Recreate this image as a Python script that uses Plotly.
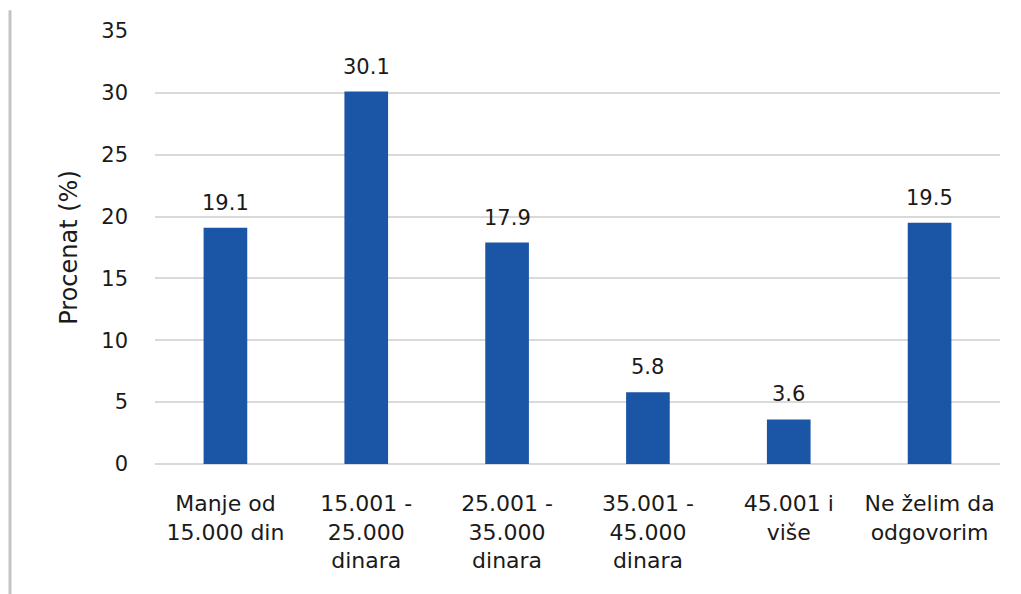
import plotly.graph_objects as go

categories = ["Manje od<br>15.000 din", "15.001 -<br>25.000<br>dinara", "25.001 -<br>35.000<br>dinara",
              "35.001 -<br>45.000<br>dinara", "45.001 i<br>više", "Ne želim da<br>odgovorim"]
values = [19.1, 30.1, 17.9, 5.8, 3.6, 19.5]
y_ticks = [0, 5, 10, 15, 20, 25, 30, 35]

FONT = "DejaVu Sans"
TXT = "#1a1a1a"
BAR = "#1b55a6"

fig = go.Figure()
fig.add_trace(go.Bar(x=categories, y=values, marker=dict(color=BAR, line=dict(width=0)),
                     showlegend=False, hoverinfo="skip"))

for c, v in zip(categories, values):
    fig.add_annotation(x=c, y=v, text=f"{v:.1f}", showarrow=False, yanchor="bottom",
                       yshift=11, font=dict(family=FONT, size=21, color=TXT))

# thin grey rule at the left edge of the image
fig.add_shape(type="line", xref="paper", yref="paper", x0=-0.1716, x1=-0.1716, y0=-0.30, y1=1.048,
              line=dict(color="#c4c4c4", width=3))

fig.update_layout(
    width=1013, height=586,
    margin=dict(l=147, r=21, t=23, b=130),
    paper_bgcolor="white", plot_bgcolor="white",
    bargap=0.69,
    font=dict(family=FONT, size=22, color=TXT),
    xaxis=dict(showgrid=False, showline=False, ticks="", ticklabelstandoff=24,
               tickfont=dict(family=FONT, size=22, color=TXT)),
    yaxis=dict(range=[0, 35], tickvals=y_ticks, showgrid=True, gridcolor="#d9d9d9", gridwidth=1.5,
               zeroline=True, zerolinecolor="#d9d9d9", zerolinewidth=1.5, showline=False,
               ticks="", ticklabelstandoff=26,
               tickfont=dict(family=FONT, size=21, color=TXT),
               title=dict(text="Procenat (%)", font=dict(family=FONT, size=24, color=TXT), standoff=16)),
)

fig.write_html("out.html")
